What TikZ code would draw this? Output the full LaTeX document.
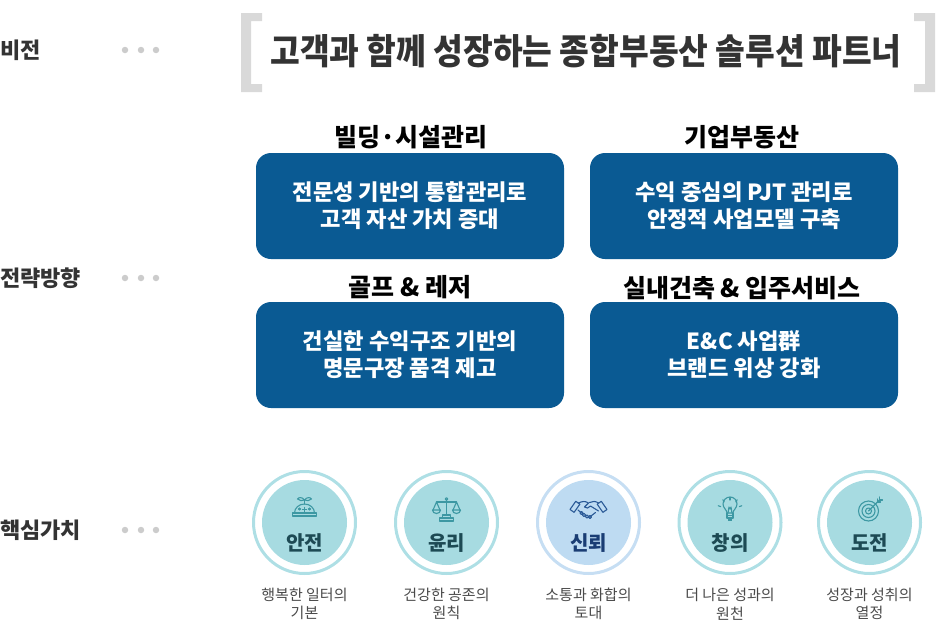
\documentclass[tikz,border=0pt]{standalone}
\usepackage{fontspec}
\setmainfont{Noto Sans CJK KR}
\definecolor{boxc}{HTML}{0A5A93}
\definecolor{brk}{HTML}{D9D9D9}
\definecolor{dotc}{HTML}{CCCCCC}
\definecolor{darkt}{HTML}{333333}
\definecolor{capt}{HTML}{4A4A4A}
\definecolor{tealring}{HTML}{AEDFE5}
\definecolor{tealfill}{HTML}{A7DBE1}
\definecolor{tealtext}{HTML}{1D4A54}
\definecolor{tealicon}{HTML}{3D98A3}
\definecolor{bluering}{HTML}{C6DEF3}
\definecolor{bluefill}{HTML}{BEDBF2}
\definecolor{bluetext}{HTML}{1A3D74}
\definecolor{blueicon}{HTML}{2B5A97}
\tikzset{
  sidelabel/.style={anchor=west, inner sep=0, text=darkt, font=\bfseries\fontsize{22}{22}\selectfont},
  sdot/.style={circle, fill=dotc, inner sep=0, minimum size=6.5},
  stitle/.style={inner sep=0, text=black, font=\bfseries\fontsize{25}{25}\selectfont},
  sbox/.style={rounded corners=15, fill=boxc, minimum width=308, minimum height=106, inner sep=0, align=center, text=white, font=\bfseries\fontsize{22.2}{27}\selectfont},
  ringT/.style={circle, draw=tealring, line width=3, minimum size=102, inner sep=0},
  fillT/.style={circle, fill=tealfill, minimum size=85, inner sep=0},
  ringB/.style={circle, draw=bluering, line width=3, minimum size=102, inner sep=0},
  fillB/.style={circle, fill=bluefill, minimum size=85, inner sep=0},
  vlabel/.style={inner sep=0, font=\bfseries\fontsize{20}{20}\selectfont},
  vcap/.style={inner sep=0, align=center, text=capt, font=\fontsize{15}{18.5}\selectfont},
  iconT/.style={draw=tealicon, line width=1.1, line join=round, line cap=round},
  iconB/.style={draw=blueicon, line width=1.1, line join=round, line cap=round},
}
\begin{document}
\begin{tikzpicture}[x=1pt,y=-1pt]
\useasboundingbox (0,0) rectangle (936,629);
% left labels and dots
\node[sidelabel] (lvision) at (0,50) {비전};
\node[sidelabel] (lstrat) at (0,278) {전략방향};
\node[sidelabel] (lcore) at (0,530) {핵심가치};
\foreach \yy/\nm in {50/v,278/s,530/c}{
  \node[sdot] (\nm d1) at (125,\yy) {};
  \node[sdot] (\nm d2) at (141,\yy) {};
  \node[sdot] (\nm d3) at (156,\yy) {};
}
% vision brackets
\fill[brk] (241,13) rectangle (251,92) (241,13) rectangle (262,21) (241,84) rectangle (262,92);
\fill[brk] (925,13) rectangle (935,92) (914,13) rectangle (935,21) (914,84) rectangle (935,92);
\node[inner sep=0, text=darkt, font=\bfseries\fontsize{32.3}{32}\selectfont] (vision) at (586,51) {\scalebox{1}[1.1]{고객과 함께 성장하는 종합부동산 솔루션 파트너}};
% strategy
\node[stitle] (t1) at (411,137) {빌딩·시설관리};
\node[stitle] (t2) at (742,137) {기업부동산};
\node[stitle] (t3) at (410,287) {골프 \& 레저};
\node[stitle] (t4) at (742,288) {실내건축 \& 입주서비스};
\node[sbox] (b1) at (410,206) {전문성 기반의 통합관리로\\고객 자산 가치 증대};
\node[sbox] (b2) at (744,206) {수익 중심의 PJT 관리로\\안정적 사업모델 구축};
\node[sbox] (b3) at (410,355) {건실한 수익구조 기반의\\명문구장 품격 제고};
\node[sbox] (b4) at (744,355) {E\&C 사업群\\브랜드 위상 강화};
% core values
\foreach \cx/\nm/\kind in {304.5/1/T,446.5/2/T,588.5/3/B,730/4/T,869.5/5/T}{
  \node[ring\kind] (r\nm) at (\cx,522.5) {};
  \node[fill\kind] (f\nm) at (\cx,522.5) {};
}
\node[vlabel, text=tealtext] (v1) at (304.5,543) {안전};
\node[vlabel, text=tealtext] (v2) at (446.5,543) {윤리};
\node[vlabel, text=bluetext] (v3) at (588.5,543) {신뢰};
\node[vlabel, text=tealtext] (v4) at (730,543) {창의};
\node[vlabel, text=tealtext] (v5) at (869.5,543) {도전};
\node[vcap] (k1) at (304.5,604) {행복한 일터의\\기본};
\node[vcap] (k2) at (446.5,604) {건강한 공존의\\원칙};
\node[vcap] (k3) at (588.5,604) {소통과 화합의\\토대};
\node[vcap] (k4) at (730,604) {더 나은 성과의\\원천};
\node[vcap] (k5) at (869.5,604) {성장과 성취의\\열정};
% icon 1: helmet with sprout
\begin{scope}[shift={(304.5,509)}, yscale=-1, iconT]
  \draw (-12,-7) rectangle (12,-4);
  \draw (-10,-4) arc[start angle=180, end angle=0, x radius=10, y radius=9];
  \draw (0,-2.5) -- (0,1.5) (-2,-0.5) -- (2,-0.5);
  \draw (-5,-1) -- (-5,1) (-6,0) -- (-4,0);
  \draw (5,-1) -- (5,1) (4,0) -- (6,0);
  \draw (0,5) -- (0,9);
  \draw (0,9) .. controls (-2,12) and (-6,12) .. (-7,10) .. controls (-5,8) and (-2,8) .. (0,9);
  \draw (0,9) .. controls (2,12) and (6,12) .. (7,10) .. controls (5,8) and (2,8) .. (0,9);
\end{scope}
% icon 2: scales
\begin{scope}[shift={(446.5,509)}, yscale=-1, iconT]
  \draw (0,-6) -- (0,9);
  \draw (0,10) circle[radius=1.3];
  \draw (-10,7) -- (10,7);
  \draw (-10,7) -- (-13.5,-1) (-10,7) -- (-6.5,-1);
  \draw (10,7) -- (6.5,-1) (10,7) -- (13.5,-1);
  \draw (-14,-1) -- (-6,-1) arc[start angle=0, end angle=-180, x radius=4, y radius=3.5];
  \draw (6,-1) -- (14,-1) arc[start angle=0, end angle=-180, x radius=4, y radius=3.5];
  \draw (-4,-9) rectangle (4,-6);
  \draw (-7,-12) rectangle (7,-9);
\end{scope}
% icon 3: handshake
\begin{scope}[shift={(588.5,509)}, yscale=-1, iconB]
  \draw[rotate around={35:(-13,3)}] (-15.5,-3) rectangle (-10.5,7);
  \draw[rotate around={-35:(13,3)}] (10.5,-3) rectangle (15.5,7);
  \draw (-10,6) .. controls (-6,8) and (-3,8) .. (0,6) -- (-4,2) .. controls (-2,0) and (0,1) .. (2,3) -- (10,-2);
  \draw (10,6) .. controls (7,8) and (4,8) .. (1,6.5);
  \draw (-10.5,-1) -- (-7,-4);
  \draw (-7,-4) circle[radius=1.6] (-4.5,-6) circle[radius=1.6] (-1.5,-7.5) circle[radius=1.6] (1.5,-8) circle[radius=1.5];
  \draw (2.5,-7) -- (7,-3.5);
\end{scope}
% icon 4: light bulb
\begin{scope}[shift={(730,510)}, yscale=-1, iconT]
  \draw (-3,-3) .. controls (-3,0) and (-7,2) .. (-7,6) arc[start angle=180, end angle=0, radius=7] .. controls (7,2) and (3,0) .. (3,-3) -- cycle;
  \draw (-3,-5.5) -- (3,-5.5) (-3,-8) -- (3,-8);
  \draw (-3,-3) -- (-3,-8) (3,-3) -- (3,-8);
  \fill[tealicon] (-2,-8) rectangle (2,-11);
  \draw (-2,-3) -- (-1,3) -- (0,1) -- (1,3) -- (2,-3);
  \foreach \a in {20,55,90,125,160} \draw (\a:10) -- (\a:12.5) ;
\end{scope}
% icon 5: target
\begin{scope}[shift={(869.5,510)}, yscale=-1, iconT]
  \draw (-1,-1) circle[radius=10] (-1,-1) circle[radius=6.5] (-1,-1) circle[radius=3];
  \draw (-1,-1) -- (10,10);
  \draw (10,10) -- (10,13) (10,10) -- (13,10) (8,8) -- (8,11) (8,8) -- (11,8);
\end{scope}
\end{tikzpicture}
\end{document}
